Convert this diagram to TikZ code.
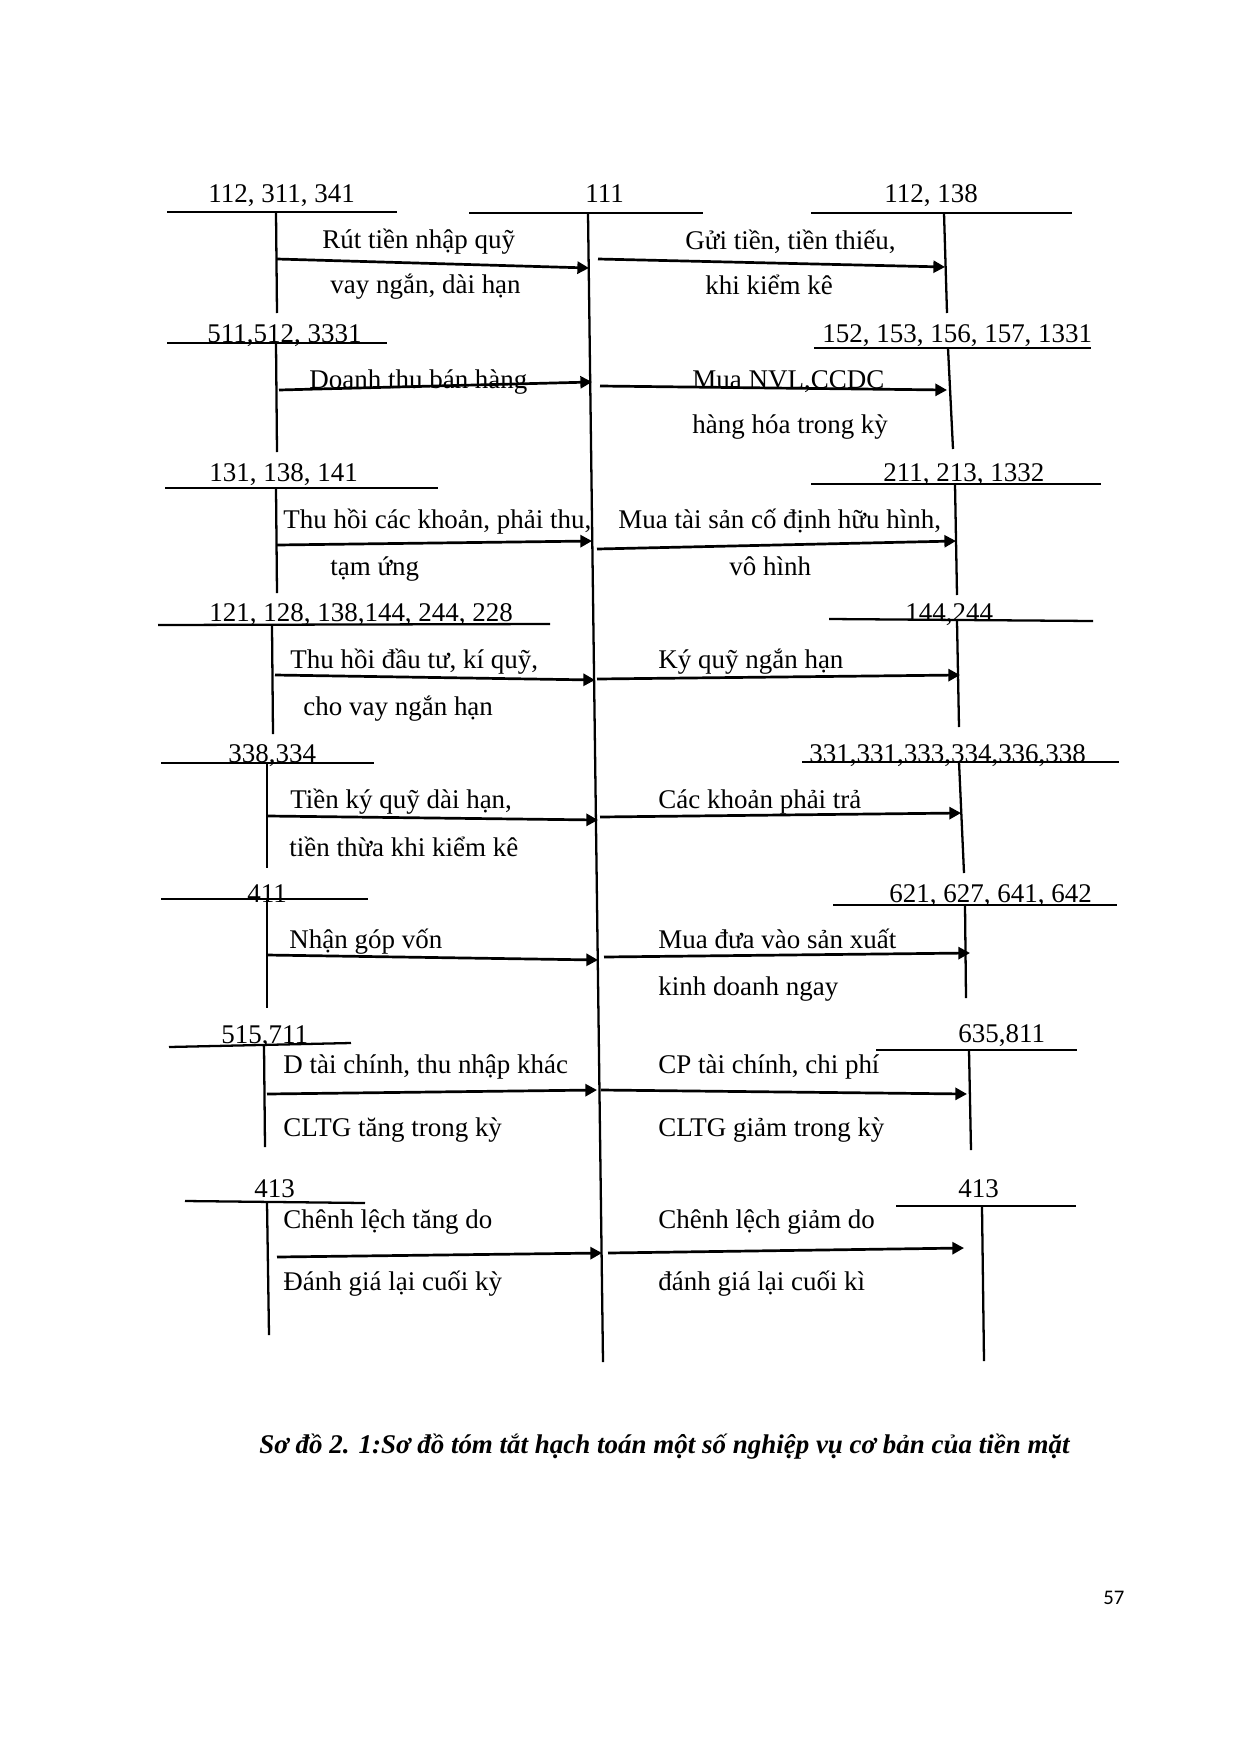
\documentclass[tikz,border=0pt]{standalone}
\usepackage{fontspec}
\setmainfont{Liberation Serif}
\newfontfamily\pagenumfont{Carlito}
\usetikzlibrary{arrows.meta}
\tikzset{
  tline/.style={line width=1.1pt},
  flow/.style={line width=1.3pt,-{Triangle[length=5.6pt,width=5.8pt]}},
  txt/.style={anchor=base west,inner sep=0pt,font=\fontsize{13pt}{15pt}\selectfont},
  captxt/.style={anchor=base west,inner sep=0pt,font=\fontsize{13pt}{15pt}\selectfont\bfseries\itshape},
}
\begin{document}
\begin{tikzpicture}[x=0.016935cm,y=-0.016935cm]
\useasboundingbox (0,0) rectangle (1240,1754);
% ---------- main account 111 ----------
\node[txt] (n111) at (585,202) {111};
\draw[tline] (469,213) -- (703,213);
\coordinate (m111t) at (588,213);
\coordinate (m111b) at (603,1362);
\draw[tline] (m111t) -- (m111b);
% ---------- left accounts ----------
\node[txt] (nL1) at (208,202) {112, 311, 341};
\draw[tline] (167,212) -- (397,212);
\draw[tline] (276,212) -- (277,313);
\node[txt] (nL2) at (207,342) {511,512, 3331};
\draw[tline] (167,343) -- (387,343);
\draw[tline] (276,343) -- (277,452);
\node[txt] (nL3) at (209,481) {131, 138, 141};
\draw[tline] (165,488) -- (438,488);
\draw[tline] (276,488) -- (277,593);
\node[txt] (nL4) at (209,621) {121, 128, 138,144, 244, 228};
\draw[tline] (158,625) -- (550,624);
\draw[tline] (272,626) -- (273,734);
\node[txt] (nL5) at (228,762) {338,334};
\draw[tline] (161,763) -- (374,763);
\draw[tline] (267,763) -- (267,868);
\node[txt] (nL6) at (247,902) {411};
\draw[tline] (161,899) -- (368,899);
\draw[tline] (267,899) -- (267,1008);
\node[txt] (nL7) at (221,1043) {515,711};
\draw[tline] (169,1047) -- (351,1043);
\draw[tline] (264,1045) -- (265,1147);
\node[txt] (nL8) at (254,1197) {413};
\draw[tline] (185,1201) -- (365,1203);
\draw[tline] (267,1202) -- (269,1335);
% ---------- right accounts ----------
\node[txt] (nR1) at (884,202) {112, 138};
\draw[tline] (811,213) -- (1072,213);
\draw[tline] (944,213) -- (947,313);
\node[txt] (nR2) at (822,342) {152, 153, 156, 157, 1331};
\draw[tline] (814,348) -- (1091,348);
\draw[tline] (948,348) -- (953,449);
\node[txt] (nR3) at (883,481) {211, 213, 1332};
\draw[tline] (811,484) -- (1101,484);
\draw[tline] (955,484) -- (957,595);
\node[txt] (nR4) at (905,621) {144,244};
\draw[tline] (829,619) -- (1093,621);
\draw[tline] (957,621) -- (959,727);
\node[txt] (nR5) at (809,762) {331,331,333,334,336,338};
\draw[tline] (802,762) -- (1119,762);
\draw[tline] (959,762) -- (964,873);
\node[txt] (nR6) at (889,902) {621, 627, 641, 642};
\draw[tline] (833,905) -- (1117,905);
\draw[tline] (965,905) -- (966,998);
\node[txt] (nR7) at (958,1042) {635,811};
\draw[tline] (876,1050) -- (1077,1050);
\draw[tline] (969,1050) -- (971,1150);
\node[txt] (nR8) at (958,1197) {413};
\draw[tline] (896,1206) -- (1076,1206);
\draw[tline] (982,1207) -- (984,1361);
% ---------- arrow end points ----------
\coordinate (a1s) at (277,259);  \coordinate (a1e) at (589,268);
\coordinate (a2s) at (279,390);  \coordinate (a2e) at (592,382);
\coordinate (a3s) at (277,545);  \coordinate (a3e) at (592,541);
\coordinate (a4s) at (275,675);  \coordinate (a4e) at (595,680);
\coordinate (a5s) at (268,816);  \coordinate (a5e) at (598,820);
\coordinate (a6s) at (267,955);  \coordinate (a6e) at (598,960);
\coordinate (a7s) at (267,1094); \coordinate (a7e) at (597,1090);
\coordinate (a8s) at (277,1257); \coordinate (a8e) at (602,1253);
\coordinate (b1s) at (598,259);  \coordinate (b1e) at (945,267);
\coordinate (b2s) at (600,386);  \coordinate (b2e) at (947,390);
\coordinate (b3s) at (597,549);  \coordinate (b3e) at (956,541);
\coordinate (b4s) at (597,679);  \coordinate (b4e) at (960,675);
\coordinate (b5s) at (600,817);  \coordinate (b5e) at (961,813);
\coordinate (b6s) at (604,957);  \coordinate (b6e) at (970,953);
\coordinate (b7s) at (601,1090); \coordinate (b7e) at (967,1094);
\coordinate (b8s) at (608,1253); \coordinate (b8e) at (964,1248);
\foreach \p in {a1,a2,a3,a4,a5,a6,a7,a8,b1,b2,b3,b4,b5,b6,b7,b8}
  \draw[flow] (\p s) -- (\p e);
% ---------- left arrow texts ----------
\node[txt] (t1) at (322,248) {Rút tiền nhập quỹ};
\node[txt] (t2) at (330,293) {vay ngắn, dài hạn};
\node[txt] (t3) at (309,388) {Doanh thu bán hàng};
\node[txt] (t4) at (283,528) {Thu hồi các khoản, phải thu,};
\node[txt] (t5) at (330,575) {tạm ứng};
\node[txt] (t6) at (290,668) {Thu hồi đầu tư, kí quỹ,};
\node[txt] (t7) at (303,715) {cho vay ngắn hạn};
\node[txt] (t8) at (290,808) {Tiền ký quỹ dài hạn,};
\node[txt] (t9) at (289,856) {tiền thừa khi kiểm kê};
\node[txt] (t10) at (289,948) {Nhận góp vốn};
\node[txt] (t11) at (283,1073) {D tài chính, thu nhập khác};
\node[txt] (t12) at (283,1136) {CLTG tăng trong kỳ};
\node[txt] (t13) at (283,1228) {Chênh lệch tăng do};
\node[txt] (t14) at (283,1290) {Đánh giá lại cuối kỳ};
% ---------- right arrow texts ----------
\node[txt] (u1) at (685,249) {Gửi tiền, tiền thiếu,};
\node[txt] (u2) at (705,294) {khi kiểm kê};
\node[txt] (u3) at (692,388) {Mua NVL,CCDC};
\node[txt] (u4) at (692,433) {hàng hóa trong kỳ};
\node[txt] (u5) at (618,528) {Mua tài sản cố định hữu hình,};
\node[txt] (u6) at (729,575) {vô hình};
\node[txt] (u7) at (658,668) {Ký quỹ ngắn hạn};
\node[txt] (u8) at (658,808) {Các khoản phải trả};
\node[txt] (u9) at (658,948) {Mua đưa vào sản xuất};
\node[txt] (u10) at (658,995) {kinh doanh ngay};
\node[txt] (u11) at (658,1073) {CP tài chính, chi phí};
\node[txt] (u12) at (658,1136) {CLTG giảm trong kỳ};
\node[txt] (u13) at (658,1228) {Chênh lệch giảm do};
\node[txt] (u14) at (658,1290) {đánh giá lại cuối kì};
% ---------- caption and page number ----------
\node[captxt] (caption) at (259,1453) {Sơ đồ 2. 1:Sơ đồ tóm tắt hạch toán một số nghiệp vụ cơ bản của tiền mặt};
\node[anchor=base west,inner sep=0pt,font=\pagenumfont\fontsize{10pt}{12pt}\selectfont] (pnum) at (1103,1604) {57};
\end{tikzpicture}
\end{document}
